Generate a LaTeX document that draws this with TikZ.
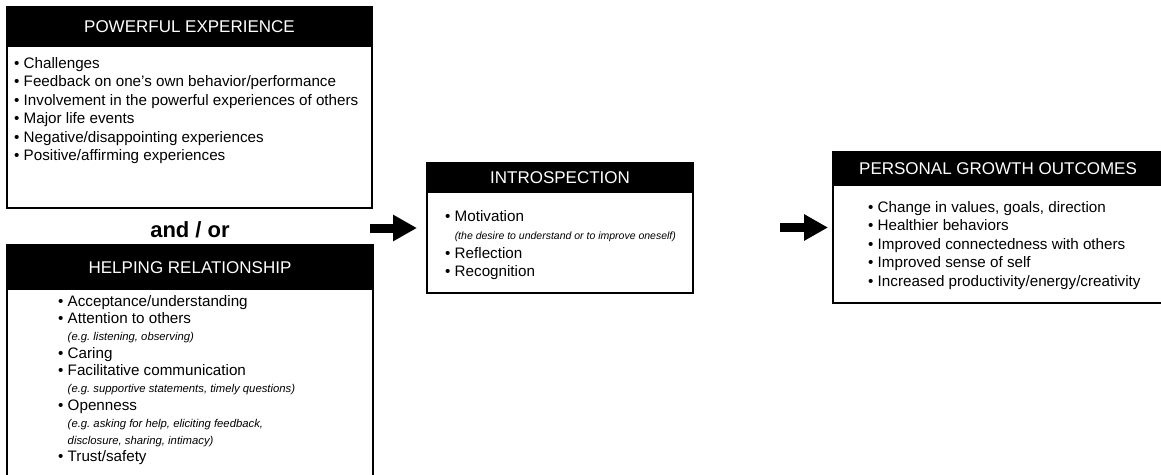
\documentclass[tikz,border=0pt]{standalone}
\usepackage{fontspec}
\setmainfont{Liberation Sans}
\usetikzlibrary{arrows.meta}
\frenchspacing

\newcommand{\itm}[1]{\textbullet\ #1}
\newcommand{\subnote}[2][10.5]{\phantom{\textbullet\ }{\fontsize{#1}{12}\selectfont\itshape #2}}

\begin{document}
\begin{tikzpicture}[
    x=1pt, y=-1pt,
    panel/.style={
      draw=black,
      line width=1.3pt,
      inner sep=0pt,
      outer sep=0pt,
      anchor=north west
    },
    bar/.style={
      fill=black,
      text=white,
      inner sep=0pt,
      outer sep=0pt,
      anchor=north west,
      font=\fontsize{17}{20}\selectfont
    },
    items/.style={
      align=left,
      inner sep=0pt,
      anchor=north west,
      font=\fontsize{15.2}{18.5}\selectfont
    },
    push/.style={
      -{Triangle[length=24pt,width=25pt]},
      line width=9pt,
      shorten >=#1
    }
  ]
    \useasboundingbox (0,0) rectangle (1161,474);
    \clip (0,0) rectangle (1161,474);

    % left column
    \node[panel, minimum width=365pt, minimum height=201pt] (expbox) at (7,7) {};
    \node[bar, minimum width=365pt, minimum height=40pt] (exphead) at (7,7) {POWERFUL EXPERIENCE};
    \node[items] (explist) at (14,57) {%
      \itm{Challenges}\\
      \itm{Feedback on one's own behavior/performance}\\
      \itm{Involvement in the powerful experiences of others}\\
      \itm{Major life events}\\
      \itm{Negative/disappointing experiences}\\
      \itm{Positive/affirming experiences}};

    \node[font=\fontsize{22}{24}\selectfont\bfseries] (andor) at (190,230) {and / or};

    \node[panel, minimum width=366pt, minimum height=240pt] (helpbox) at (7,245) {};
    \node[bar, minimum width=366pt, minimum height=45pt] (helphead) at (7,245) {HELPING RELATIONSHIP};
    \node[items, font=\fontsize{15.2}{17.3}\selectfont] (helplist) at (58,295) {%
      \itm{Acceptance/understanding}\\
      \itm{Attention to others}\\
      \subnote[11.3]{(e.g. listening, observing)}\\
      \itm{Caring}\\
      \itm{Facilitative communication}\\
      \subnote[11.3]{(e.g. supportive statements, timely questions)}\\
      \itm{Openness}\\
      \subnote[11.3]{(e.g. asking for help, eliciting feedback,}\\
      \subnote[11.3]{disclosure, sharing, intimacy)}\\
      \itm{Trust/safety}};

    % middle
    \node[panel, minimum width=266pt, minimum height=130pt] (introbox) at (427,163) {};
    \node[bar, minimum width=266pt, minimum height=30pt] (introhead) at (427,163) {INTROSPECTION};
    \node[items] (introlist) at (445,210) {%
      \itm{Motivation}\\
      \subnote{(the desire to understand or to improve oneself)}\\
      \itm{Reflection}\\
      \itm{Recognition}};

    % right
    \node[panel, minimum width=330pt, minimum height=151pt] (growthbox) at (833,152) {};
    \node[bar, minimum width=330pt, minimum height=34pt] (growthhead) at (833,152) {PERSONAL GROWTH OUTCOMES};
    \node[items] (growthlist) at (868,201) {%
      \itm{Change in values, goals, direction}\\
      \itm{Healthier behaviors}\\
      \itm{Improved connectedness with others}\\
      \itm{Improved sense of self}\\
      \itm{Increased productivity/energy/creativity}};

    % arrows
    \coordinate (from1) at (370,228);
    \coordinate (from2) at (780,227.5);
    \draw[push=10pt] (from1) -- (introbox.west);
    \draw[push=5pt] (from2) -- (growthbox.west);
  \end{tikzpicture}
\end{document}
